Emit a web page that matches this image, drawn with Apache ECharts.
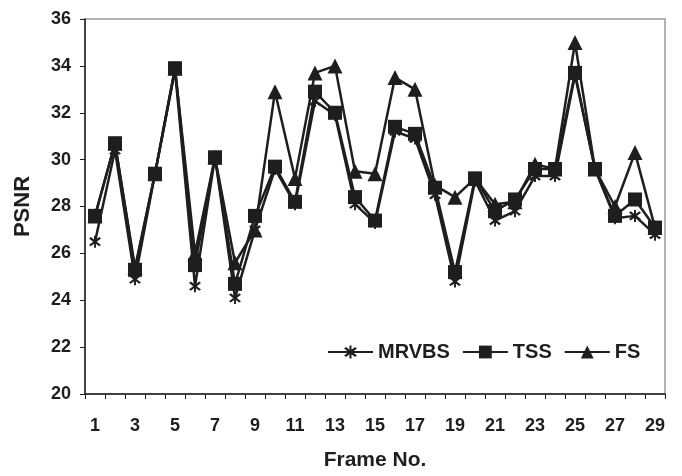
<!DOCTYPE html>
<html>
<head>
<meta charset="utf-8">
<script src="https://cdn.jsdelivr.net/npm/echarts@6/dist/echarts.min.js"></script>
<style>html,body{margin:0;padding:0;background:#fff;}#c{width:682px;height:476px;}</style>
</head>
<body>
<div id="c"></div>
<script>
const frames = ['1','2','3','4','5','6','7','8','9','10','11','12','13','14','15','16','17','18','19','20','21','22','23','24','25','26','27','28','29'];
const mrvbs = [26.5,30.4,24.9,29.4,33.8,24.6,30.1,24.1,27.0,29.6,28.1,32.5,31.9,28.1,27.3,31.2,30.9,28.5,24.8,29.1,27.4,27.8,29.3,29.3,33.6,29.6,27.5,27.6,26.8];
const tss   = [27.6,30.7,25.3,29.4,33.9,25.5,30.1,24.7,27.6,29.7,28.2,32.9,32.0,28.4,27.4,31.4,31.1,28.8,25.2,29.2,27.8,28.3,29.6,29.6,33.7,29.6,27.6,28.3,27.1];
const fs    = [27.6,30.7,25.4,29.4,33.9,26.0,30.1,25.6,27.0,32.9,29.2,33.7,34.0,29.5,29.4,33.5,33.0,28.9,28.4,29.2,28.1,28.2,29.8,29.6,35.0,29.6,28.0,30.3,27.1];
const yTicks = {min:20, max:36, interval:2};

const font = 'Liberation Sans';
const ink = '#1e1e1e';
const starPath = 'path://M1.5,0L5,3.5L8.5,0L10,1.5L6.5,5L10,8.5L8.5,10L5,6.5L1.5,10L0,8.5L3.5,5L0,1.5Z M4.2,-1.5L5.8,-1.5L5.8,11.5L4.2,11.5Z';
const chart = echarts.init(document.getElementById('c'));
function ser(name, data, symbol, size){
  return {
    name, type:'line', data, symbol, symbolSize:size, showAllSymbol:true,
    lineStyle:{color:ink, width:2.5},
    itemStyle:{color:ink},
    emphasis:{disabled:true},
    animation:false
  };
}
chart.setOption({
  animation:false,
  grid:{left:85, right:17, top:19, bottom:78, show:true, borderColor:'#999', borderWidth:1.5},
  legend:{
    left:322, top:337, itemWidth:45, itemHeight:16, itemGap:12,
    textStyle:{fontFamily:font, fontWeight:'bold', fontSize:20, color:ink},
    data:['MRVBS','TSS','FS']
  },
  xAxis:{
    type:'category', data:frames, boundaryGap:true,
    name:'Frame No.', nameLocation:'middle', nameGap:56,
    nameTextStyle:{fontFamily:font, fontWeight:'bold', fontSize:21, color:ink},
    axisLine:{lineStyle:{color:ink, width:1.5}},
    axisTick:{show:true, interval:0, alignWithLabel:false, length:5, lineStyle:{color:ink}},
    axisLabel:{interval:1, margin:23, fontFamily:font, fontWeight:'bold', fontSize:18, color:ink},
    splitLine:{show:false}
  },
  yAxis:{
    type:'value', min:yTicks.min, max:yTicks.max, interval:yTicks.interval,
    name:'PSNR', nameLocation:'middle', nameGap:51, nameRotate:90,
    nameTextStyle:{fontFamily:font, fontWeight:'bold', fontSize:22, color:ink},
    axisLine:{show:true, lineStyle:{color:ink, width:1.5}},
    axisTick:{show:true, length:5, lineStyle:{color:ink}},
    axisLabel:{margin:14, fontFamily:font, fontWeight:'bold', fontSize:18, color:ink},
    splitLine:{show:false}
  },
  series:[
    ser('MRVBS', mrvbs, starPath, 12),
    ser('TSS', tss, 'rect', 14),
    ser('FS', fs, 'triangle', 15)
  ]
});
</script>
</body>
</html>
